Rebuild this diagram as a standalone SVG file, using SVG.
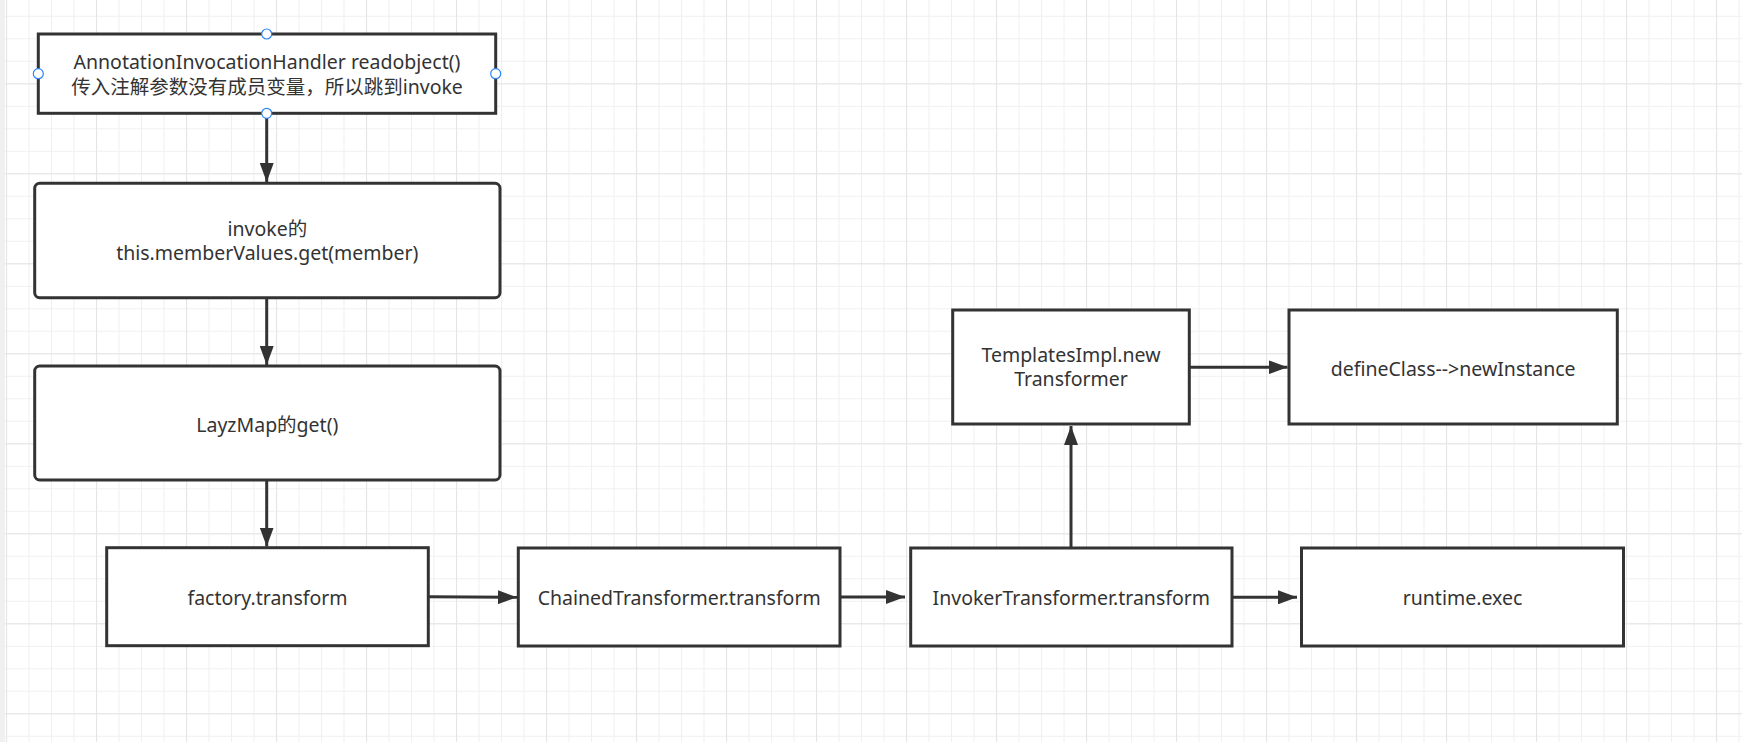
<svg xmlns="http://www.w3.org/2000/svg" width="1742" height="742" viewBox="0 0 1742 742">
<style>
.box{fill:#ffffff;stroke:#333333;stroke-width:3}
.lbl{font-family:"Noto Sans","Noto Sans CJK SC",sans-serif;font-size:19.5px;fill:#333333;text-anchor:middle}
.edge{stroke:#333333;stroke-width:3;fill:none}
.handle{fill:#ffffff;stroke:#2f86f6;stroke-width:1.2}
</style>
<defs>
<pattern id="minor" x="6" y="-6.7" width="22.5" height="22.5" patternUnits="userSpaceOnUse">
<path d="M0 0.5H22.5M0.5 0V22.5" stroke="#f0f0f0" stroke-width="1.2" fill="none"/>
</pattern>
<pattern id="major" x="6" y="-6.7" width="90" height="90" patternUnits="userSpaceOnUse">
<path d="M0 0.5H90M0.5 0V90" stroke="#e5e5e5" stroke-width="1.2" fill="none"/>
</pattern>
<marker id="arrow" viewBox="0 0 19 14" refX="19" refY="7" markerWidth="19" markerHeight="14" markerUnits="userSpaceOnUse" orient="auto">
<path d="M0 0L19 7L0 14Z" fill="#333333"/>
</marker>
</defs>
<rect width="1742" height="742" fill="#ffffff"/>
<rect width="1742" height="742" fill="url(#minor)"/>
<rect width="1742" height="742" fill="url(#major)"/>
<rect x="0" y="0" width="5" height="742" fill="#f0f0f0"/>

<g id="connectors">
<line class="edge" x1="266.7" y1="114" x2="266.7" y2="182" marker-end="url(#arrow)"/>
<line class="edge" x1="266.7" y1="298" x2="266.7" y2="365" marker-end="url(#arrow)"/>
<line class="edge" x1="266.7" y1="481" x2="266.7" y2="546.5" marker-end="url(#arrow)"/>
<line class="edge" x1="429" y1="596.7" x2="517" y2="597.3" marker-end="url(#arrow)"/>
<line class="edge" x1="841" y1="597" x2="905" y2="597" marker-end="url(#arrow)"/>
<line class="edge" x1="1233" y1="597.3" x2="1297" y2="597.3" marker-end="url(#arrow)"/>
<line class="edge" x1="1071" y1="547" x2="1071" y2="426" marker-end="url(#arrow)"/>
<line class="edge" x1="1190" y1="367.3" x2="1287.5" y2="367.3" marker-end="url(#arrow)"/>
</g>

<g id="node-annotation">
<rect class="box" x="38.3" y="34" width="457.4" height="79.3"/>
<text class="lbl" x="267" y="69">AnnotationInvocationHandler readobject()</text>
<text class="lbl" x="267" y="93.5">传入注解参数没有成员变量，所以跳到invoke</text>
<circle class="handle" cx="266.7" cy="34" r="5"/>
<circle class="handle" cx="38.3" cy="73.7" r="5"/>
<circle class="handle" cx="495.7" cy="73.7" r="5"/>
<circle class="handle" cx="266.7" cy="113.3" r="5"/>
</g>

<g id="node-invoke">
<rect class="box" x="34.7" y="183.3" width="465.3" height="114.4" rx="5"/>
<text class="lbl" x="267.3" y="236">invoke的</text>
<text class="lbl" x="267.3" y="260">this.memberValues.get(member)</text>
</g>

<g id="node-lazymap">
<rect class="box" x="34.7" y="366" width="465.3" height="114" rx="5"/>
<text class="lbl" x="267.3" y="431.5">LayzMap的get()</text>
</g>

<g id="node-factory">
<rect class="box" x="106.7" y="547.7" width="321.6" height="98"/>
<text class="lbl" x="267.5" y="605">factory.transform</text>
</g>

<g id="node-chained">
<rect class="box" x="518.3" y="548" width="321.7" height="98"/>
<text class="lbl" x="679.2" y="605">ChainedTransformer.transform</text>
</g>

<g id="node-invoker">
<rect class="box" x="910.7" y="548" width="321.3" height="98"/>
<text class="lbl" x="1071.3" y="605">InvokerTransformer.transform</text>
</g>

<g id="node-runtime">
<rect class="box" x="1301.5" y="548" width="322" height="98"/>
<text class="lbl" x="1462.5" y="605">runtime.exec</text>
</g>

<g id="node-templates">
<rect class="box" x="952.7" y="310" width="236.6" height="114"/>
<text class="lbl" x="1071" y="361.5">TemplatesImpl.new</text>
<text class="lbl" x="1071" y="386">Transformer</text>
</g>

<g id="node-define">
<rect class="box" x="1289" y="310" width="328.3" height="114"/>
<text class="lbl" x="1453.2" y="375.5">defineClass--&gt;newInstance</text>
</g>
</svg>
